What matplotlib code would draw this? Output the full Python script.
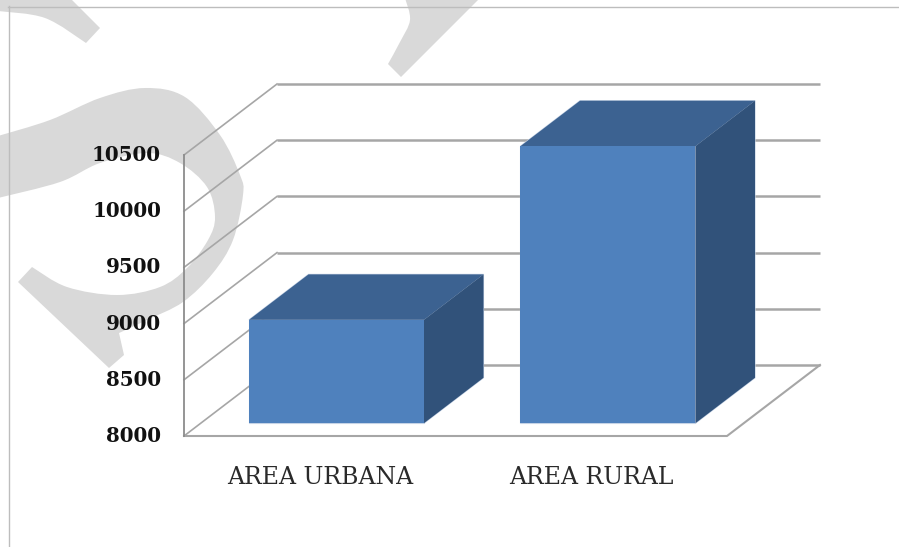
import matplotlib
matplotlib.use("Agg")
import matplotlib.pyplot as plt
from matplotlib.patches import Polygon, PathPatch
from matplotlib.path import Path

categories = ["AREA URBANA", "AREA RURAL"]
values = [8920, 10465]
y_ticks = [8000, 8500, 9000, 9500, 10000, 10500]

W, H = 899, 547
fig = plt.figure(figsize=(W / 100, H / 100), dpi=100, facecolor="white")

# watermark / page decoration, in pixel space
bg = fig.add_axes([0, 0, 1, 1], zorder=0)
bg.set_xlim(0, W); bg.set_ylim(H, 0); bg.axis("off")
GR = "#D9D9D9"
def smooth(pts):
    verts = [pts[0]]; codes = [Path.MOVETO]
    n = len(pts)
    for i in range(n - 1):
        p0 = pts[max(i - 1, 0)]; p1 = pts[i]; p2 = pts[i + 1]; p3 = pts[min(i + 2, n - 1)]
        c1 = (p1[0] + (p2[0] - p0[0]) / 6, p1[1] + (p2[1] - p0[1]) / 6)
        c2 = (p2[0] - (p3[0] - p1[0]) / 6, p2[1] - (p3[1] - p1[1]) / 6)
        verts += [c1, c2, p2]; codes += [Path.CURVE4] * 3
    return verts, codes
def shape(segments):
    verts, codes = [], []
    for k, seg in enumerate(segments):
        v, c = smooth(seg)
        if k:
            v, c = v[1:], c[1:]
            v = [seg[0]] + v; c = [Path.LINETO] + c
        verts += v; codes += c
    verts.append(verts[0]); codes.append(Path.CLOSEPOLY)
    bg.add_patch(PathPatch(Path(verts, codes), fc=GR, ec="none"))

shape([[(-2, 11), (45, 18), (86, 43)], [(86, 43), (100, 28)], [(100, 28), (70, -2)], [(70, -2), (-2, -2)]])
shape([[(405, -2), (410, 20), (400, 42), (388, 64)], [(388, 64), (401, 77)], [(401, 77), (450, 28), (480, -2)]])
shape([[(-2, 136), (50, 120), (100, 98), (145, 88), (185, 97), (220, 135), (240, 175), (243, 195),
        (233, 240), (213, 273), (183, 302), (147, 320), (119, 333)],
       [(119, 333), (124, 355)], [(124, 355), (109, 368)], [(109, 368), (18, 282)], [(18, 282), (32, 267)],
       [(32, 267), (67, 287), (117, 295), (160, 287), (187, 268), (208, 240), (215, 217), (207, 187),
        (180, 163), (147, 153), (100, 163), (60, 182), (-2, 198)]])

# page frame lines
bg.plot([8, 899], [6.5, 6.5], color="#BDBDBD", lw=1.0)
bg.plot([8.5, 8.5], [6, 547], color="#BDBDBD", lw=1.0)

# chart axes: front plane of the 3-D box
x0, x1, ytop, ybot = 184, 727, 155, 436
ax = fig.add_axes([x0 / W, 1 - ybot / H, (x1 - x0) / W, (ybot - ytop) / H], zorder=1)
ax.patch.set_alpha(0)
ax.set_xlim(-0.5, 1.5)
ax.set_ylim(y_ticks[0], y_ticks[-1])
ax.axis("off")

unit_x = (x1 - x0) / 2            # px per category
unit_y = (ybot - ytop) / (y_ticks[-1] - y_ticks[0])
DX = 93 / unit_x                  # depth of the box in category units
DY = 71 / unit_y                  # depth of the box in value units
def proj(c, v, d):
    return (c + d * DX, v + d * DY)

GRID = "#A6A6A6"
AX = "#8C8C8C"
for t in y_ticks:
    a, b = proj(-0.5, t, 0), proj(-0.5, t, 1)
    c = proj(1.5, t, 1)
    ax.plot([b[0], c[0]], [b[1], c[1]], color=GRID, lw=1.8, clip_on=False, zorder=1, solid_capstyle="butt")
    ax.plot([a[0], b[0]], [a[1], b[1]], color=GRID, lw=1.2, clip_on=False, zorder=1)
# floor and vertical axis
floor = [proj(-0.5, y_ticks[0], 0), proj(1.5, y_ticks[0], 0), proj(1.5, y_ticks[0], 1)]
ax.plot(*zip(*floor), color=GRID, lw=1.5, clip_on=False, zorder=1.5)
ax.plot([-0.5, -0.5], [y_ticks[0], y_ticks[-1]], color=AX, lw=1.3, clip_on=False, zorder=1.5)

# 3-D bars
bw = 175 / unit_x
d0, d1 = 0.18, 0.82
FRONT, TOP, SIDE = "#4F81BD", "#3C6291", "#31527A"
base = y_ticks[0]
for i, v in enumerate(values):
    l, r = i - bw / 2, i + bw / 2
    front = [proj(l, base, d0), proj(r, base, d0), proj(r, v, d0), proj(l, v, d0)]
    top = [proj(l, v, d0), proj(r, v, d0), proj(r, v, d1), proj(l, v, d1)]
    side = [proj(r, base, d0), proj(r, base, d1), proj(r, v, d1), proj(r, v, d0)]
    for pts, col, z in [(top, TOP, 3), (side, SIDE, 3.1), (front, FRONT, 3.2)]:
        ax.add_patch(Polygon(pts, closed=True, fc="none", ec="#C5D3E6", lw=0.8, clip_on=False, zorder=2.9))
    for pts, col, z in [(top, TOP, 3), (side, SIDE, 3.1), (front, FRONT, 3.2)]:
        ax.add_patch(Polygon(pts, closed=True, fc=col, ec="none", clip_on=False, zorder=z))

# tick labels
for t in y_ticks:
    ax.annotate(str(t), xy=(-0.5, t), xytext=(-23, 0), textcoords="offset pixels",
                ha="right", va="center", family="DejaVu Serif", weight="bold",
                fontsize=14.3, color="#111111", annotation_clip=False)
for i, c in enumerate(categories):
    ax.annotate(c, xy=(i, y_ticks[0]), xytext=(0, -42), textcoords="offset pixels",
                ha="center", va="center", family="DejaVu Serif",
                fontsize=17, color="#2A2A2A", annotation_clip=False)

fig.savefig("out.png", dpi=100)
